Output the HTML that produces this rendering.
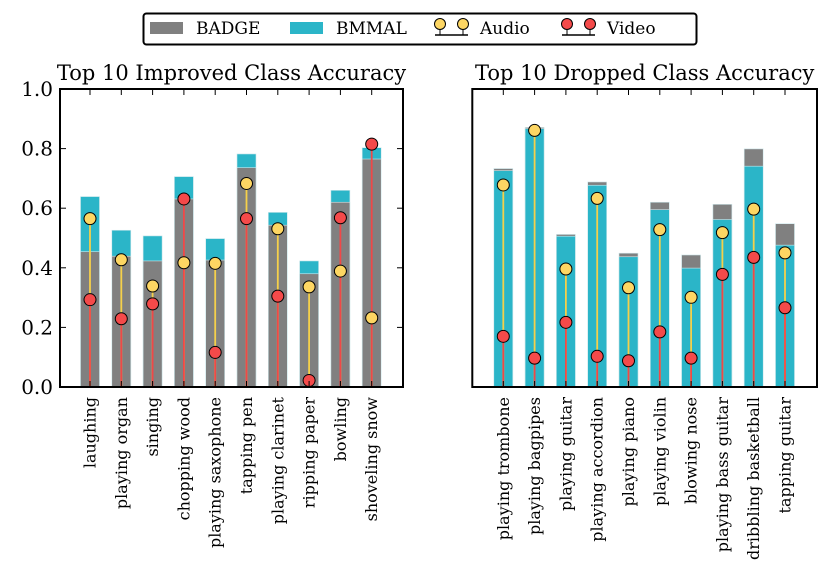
<!DOCTYPE html>
<html><head><meta charset="utf-8"><style>
body{margin:0;background:#fff;}
svg{display:block;font-family:"DejaVu Serif","Liberation Serif",serif;}
</style></head><body>
<svg id="chart" width="831" height="568" viewBox="0 0 831 568" xmlns="http://www.w3.org/2000/svg">
<g>
<rect x="143.5" y="13.5" width="553" height="31" rx="3" fill="#fff" stroke="#000" stroke-width="2"/>
<rect x="150" y="22" width="33" height="12" fill="#808080"/>
<text x="196" y="34" font-size="17">BADGE</text>
<rect x="290" y="22" width="33" height="12" fill="#2bb5c8"/>
<text x="336" y="34" font-size="17">BMMAL</text>
<g>
<line x1="435" y1="35" x2="468" y2="35" stroke="#000" stroke-width="1.5"/>
<line x1="440" y1="25" x2="440" y2="35" stroke="#000"/><line x1="463" y1="25" x2="463" y2="35" stroke="#000"/>
<circle cx="440" cy="24" r="5.5" fill="#fdd663" stroke="#000"/><circle cx="463" cy="24" r="5.5" fill="#fdd663" stroke="#000"/>
</g>
<text x="480" y="34" font-size="17">Audio</text>
<g>
<line x1="562" y1="35" x2="595" y2="35" stroke="#000" stroke-width="1.5"/>
<line x1="567" y1="25" x2="567" y2="35" stroke="#000"/><line x1="590" y1="25" x2="590" y2="35" stroke="#000"/>
<circle cx="567" cy="24" r="5.5" fill="#f44a4a" stroke="#000"/><circle cx="590" cy="24" r="5.5" fill="#f44a4a" stroke="#000"/>
</g>
<text x="607" y="34" font-size="17">Video</text>
</g>
</svg>
<script>
const leftCategories=["laughing","playing organ","singing","chopping wood","playing saxophone","tapping pen","playing clarinet","ripping paper","bowling","shoveling snow"];
const leftBadge=[0.454,0.439,0.423,0.631,0.426,0.736,0.543,0.380,0.620,0.765];
const leftBmmal=[0.639,0.526,0.507,0.706,0.498,0.782,0.586,0.423,0.660,0.803];
const leftAudio=[0.565,0.427,0.339,0.417,0.415,0.683,0.531,0.336,0.389,0.232];
const leftVideo=[0.293,0.229,0.279,0.631,0.116,0.565,0.305,0.022,0.568,0.815];
const rightCategories=["playing trombone","playing bagpipes","playing guitar","playing accordion","playing piano","playing violin","blowing nose","playing bass guitar","dribbling basketball","tapping guitar"];
const rightBadge=[0.733,0.871,0.512,0.688,0.449,0.620,0.443,0.613,0.799,0.548];
const rightBmmal=[0.726,0.867,0.506,0.677,0.437,0.595,0.399,0.562,0.741,0.476];
const rightAudio=[0.678,0.861,0.396,0.633,0.333,0.528,0.301,0.518,0.597,0.450];
const rightVideo=[0.170,0.097,0.217,0.103,0.088,0.185,0.097,0.378,0.435,0.266];
const yTicks=[0.0,0.2,0.4,0.6,0.8,1.0];

const svg=document.getElementById('chart');
const NS="http://www.w3.org/2000/svg";
function mk(tag,attrs,parent){const e=document.createElementNS(NS,tag);for(const k in attrs)e.setAttribute(k,attrs[k]);parent.appendChild(e);return e;}

function panel(key,x0,x1,firstC,title,cats,badge,bmmal,audio,video,showY){
  const yB=387,yT=89;
  const y=v=>yB-v*(yB-yT);
  const step=31.3;
  const x=i=>firstC+i*step;
  const bw=19;
  const g=mk('g',{},svg);
  
  
  const t=mk('text',{x:(x0+x1)/2,y:80,'font-size':21,'text-anchor':'middle'},g);
  t.textContent=title;
  
  
  cats.forEach((c,i)=>{
    const cx=x(i);
    const bars=[{v:badge[i],c:'#808080',n:'badge'},{v:bmmal[i],c:'#2bb5c8',n:'bmmal'}].sort((a,b)=>b.v-a.v);
    bars.forEach(b=>{
      const r=mk('rect',{x:cx-bw/2,y:y(b.v),width:bw,height:yB-y(b.v),fill:b.c,stroke:'#cfe8ec','stroke-width':0.6},g);
      
      
    });
    const la=mk('line',{x1:cx,y1:yB,x2:cx,y2:y(audio[i]),stroke:'#f5d04a','stroke-width':1.8},g);
    
    
    const lv=mk('line',{x1:cx,y1:yB,x2:cx,y2:y(video[i]),stroke:'#f04848','stroke-width':1.8},g);
    
    
    const ca=mk('circle',{cx:cx,cy:y(audio[i]),r:6,fill:'#fdd663',stroke:'#000','stroke-width':1},g);
    
    
    const cv=mk('circle',{cx:cx,cy:y(video[i]),r:6,fill:'#f44a4a',stroke:'#000','stroke-width':1},g);
    
    
    mk('line',{x1:cx,y1:yT,x2:cx,y2:yT+6,stroke:'#000','stroke-width':1},g);
    mk('line',{x1:cx,y1:yB,x2:cx,y2:yB-6,stroke:'#000','stroke-width':1},g);
    const lb=mk('text',{transform:`translate(${cx+5.5},397) rotate(-90)`,'font-size':16,'text-anchor':'end'},g);
    lb.textContent=c;
    
    
  });
  if(showY){
    yTicks.forEach(v=>{
      mk('line',{x1:x0,y1:y(v),x2:x0+6,y2:y(v),stroke:'#000'},g);
      mk('line',{x1:x1,y1:y(v),x2:x1-6,y2:y(v),stroke:'#000'},g);
      const tl=mk('text',{x:x0-7,y:y(v)+7,'font-size':20,'text-anchor':'end'},g);
      tl.textContent=v.toFixed(1);
      
      
    });
  }
  const fr=mk('rect',{x:x0,y:yT,width:x1-x0,height:yB-yT,fill:'none',stroke:'#000','stroke-width':2},g);
  
  
}
panel('left',60,403,90,'Top 10 Improved Class Accuracy',leftCategories,leftBadge,leftBmmal,leftAudio,leftVideo,true);
panel('right',472.3,817,503.3,'Top 10 Dropped Class Accuracy',rightCategories,rightBadge,rightBmmal,rightAudio,rightVideo,false);
</script>
</body></html>
